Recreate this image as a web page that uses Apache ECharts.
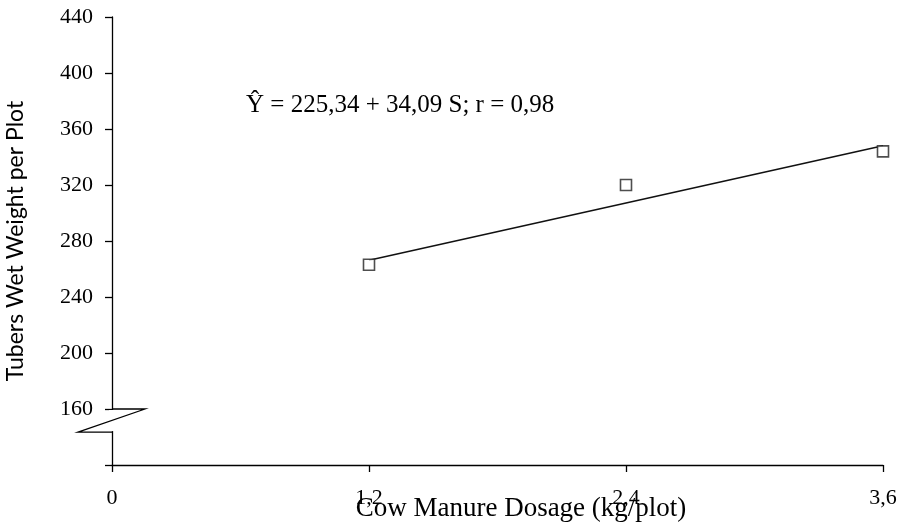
<!DOCTYPE html>
<html>
<head>
<meta charset="utf-8">
<script src="https://cdn.jsdelivr.net/npm/echarts@6/dist/echarts.min.js"></script>
<style>html,body{margin:0;padding:0;background:#fff;}#c{width:902px;height:522px;}</style>
</head>
<body>
<div id="c"></div>
<script>
var doses = [1.2, 2.4, 3.6];
var wetWeight = [263, 320, 344];
var fitLine = [[1.2, 266.2], [3.6, 348.1]];
var xTicks = [0, 1.2, 2.4, 3.6];
var yMin = 120, yMax = 440, yStep = 40;
var equationText = 'Ŷ = 225,34 + 34,09 S; r = 0,98';

var chart = echarts.init(document.getElementById('c'));
var serif = 'Liberation Serif';
chart.setOption({
  backgroundColor: '#fff',
  animation: false,
  grid: {left: 112, right: 19, top: 17, bottom: 57, containLabel: false, outerBoundsMode: 'none'},
  xAxis: {
    type: 'value', min: 0, max: 3.6, interval: 1.2,
    name: 'Cow Manure Dosage (kg/plot)', nameLocation: 'middle', nameGap: 30, nameMoveOverlap: false,
    nameTextStyle: {fontFamily: serif, fontSize: 27, color: '#000', padding: [0, 0, 0, 47]},
    axisLine: {lineStyle: {color: '#000', width: 1.3}},
    axisTick: {show: true, length: 7, lineStyle: {color: '#000', width: 1.3}},
    axisLabel: {fontFamily: serif, fontSize: 22, color: '#000', margin: 22,
      formatter: function (v) { return String(v).replace('.', ','); }},
    splitLine: {show: false}
  },
  yAxis: {
    type: 'value', min: yMin, max: yMax, interval: yStep,
    name: 'Tubers Wet Weight per Plot', nameLocation: 'middle', nameGap: 85, nameMoveOverlap: false,
    nameTextStyle: {fontFamily: 'Lato', fontSize: 23, color: '#000'},
    axisLine: {lineStyle: {color: '#000', width: 1.3}},
    axisTick: {show: true, length: 7, lineStyle: {color: '#000', width: 1.3}},
    axisLabel: {fontFamily: serif, fontSize: 22, color: '#000', margin: 19,
      formatter: function (v) { return v === yMin ? '' : String(v); }},
    splitLine: {show: false}
  },
  series: [
    {
      type: 'line', data: fitLine, showSymbol: false, symbol: 'none',
      lineStyle: {color: '#111', width: 1.5}, z: 2
    },
    {
      type: 'scatter', data: doses.map(function (d, i) { return [d, wetWeight[i]]; }),
      symbol: 'rect', symbolSize: 11,
      itemStyle: {color: '#fff', borderColor: '#222', borderWidth: 1.6}, z: 3
    }
  ]
});

var p160 = chart.convertToPixel({gridIndex: 0}, [0, 160]);
var pLow = chart.convertToPixel({gridIndex: 0}, [0, 143.5]);
var ax = p160[0];
chart.setOption({
  graphic: [
    {type: 'rect', shape: {x: ax - 3, y: p160[1] + 1, width: 6, height: pLow[1] - p160[1] - 2},
      style: {fill: '#fff'}, z: 100},
    {type: 'polyline', shape: {points: [[ax, p160[1]], [ax + 33, p160[1]], [ax - 34, pLow[1]], [ax, pLow[1]]]},
      style: {stroke: '#000', lineWidth: 1.3, fill: null}, z: 101},
    {type: 'text', left: 246, top: 93, z: 101,
      style: {text: equationText, font: '25px "Liberation Serif"', fill: '#000'}}
  ]
});
</script>
</body>
</html>
